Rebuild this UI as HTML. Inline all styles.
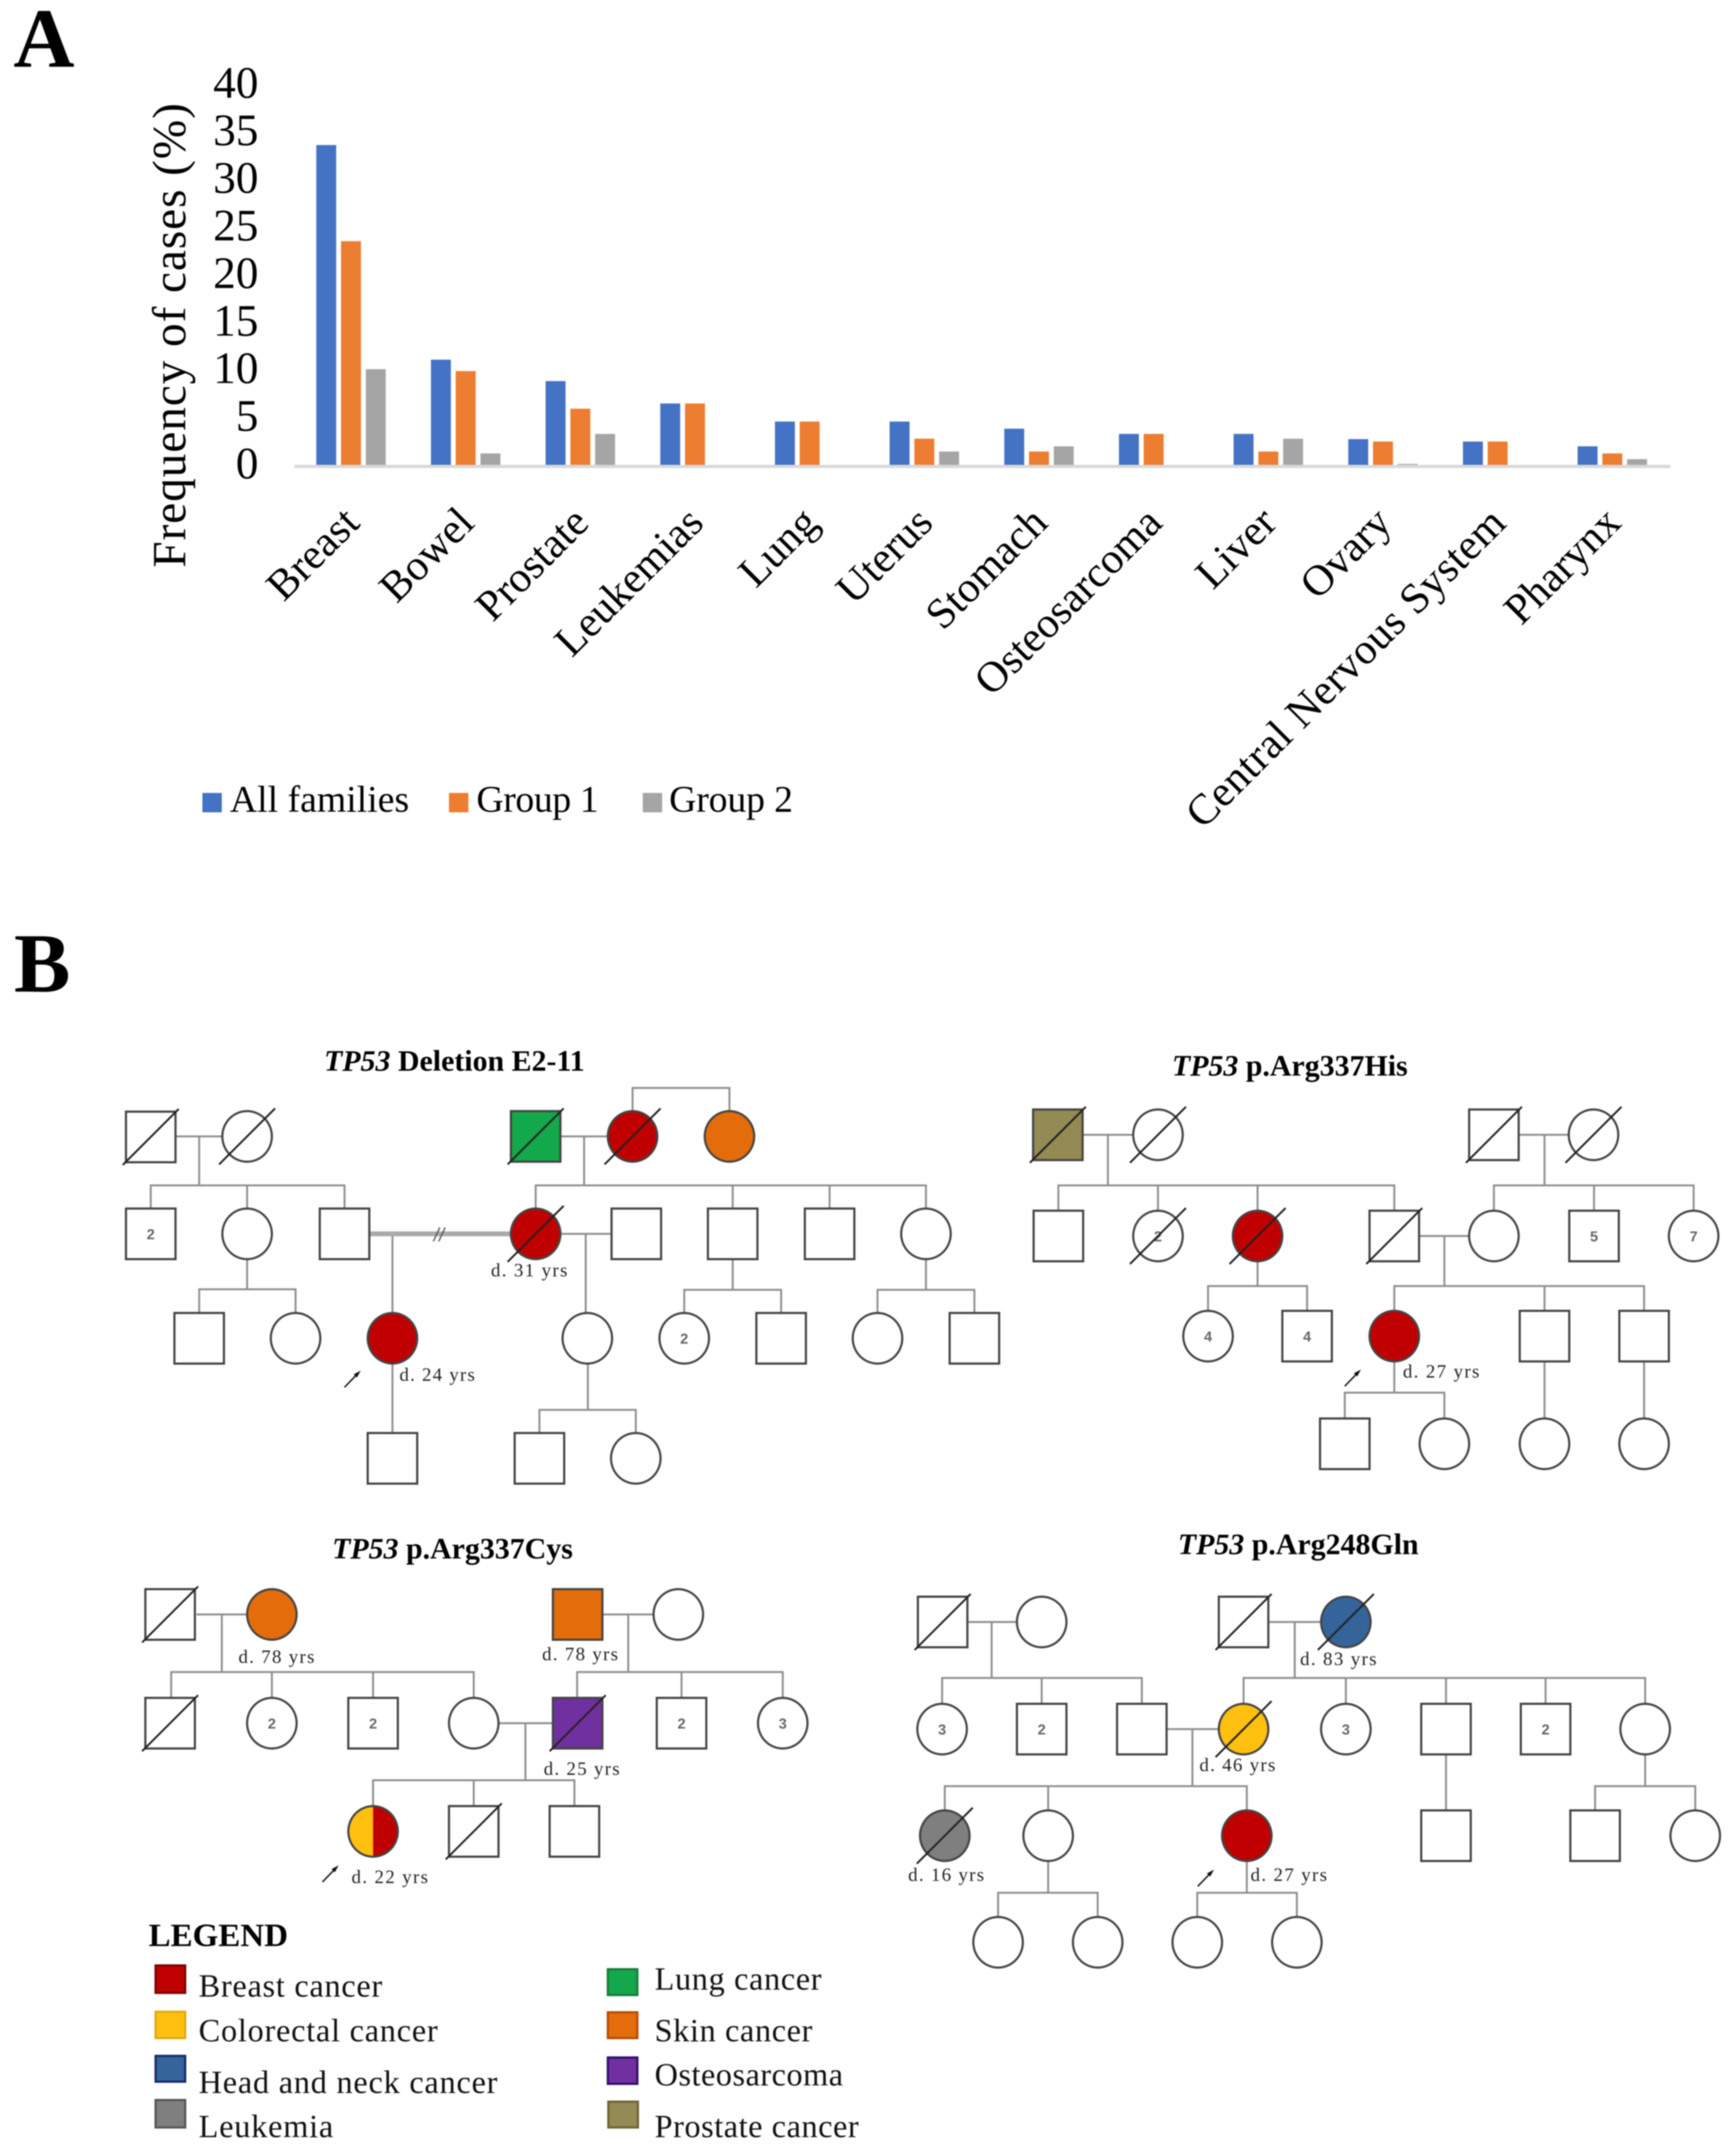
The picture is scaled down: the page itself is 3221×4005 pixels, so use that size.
<!DOCTYPE html>
<html lang="en">
<head>
<meta charset="utf-8">
<title>TP53 tumour frequency and pedigrees</title>
<style>
html,body{margin:0;padding:0;background:#fff}
svg{display:block;font-family:"Liberation Serif",serif;filter:blur(1px)}
.ln{fill:none;stroke:#8c8c8c;stroke-width:3.5}
.ttl{font-size:55.5px;font-weight:bold;fill:#000}
.ag{font-size:35px;fill:#222}
.num{font-family:"Liberation Sans",sans-serif;font-size:27px;font-weight:bold;fill:#666;text-anchor:middle}
.lg{font-size:60px;fill:#111}
.arr{stroke:#222;stroke-width:3;fill:none}
</style>
</head>
<body>
<svg id="figure" xmlns="http://www.w3.org/2000/svg" width="3221" height="4005" viewBox="0 0 3221 4005">
<defs>
<rect id="s" x="-46" y="-47" width="92" height="94" stroke="#444" stroke-width="4"/>
<ellipse id="c" rx="46" ry="47" stroke="#444" stroke-width="4"/>
<path id="x" d="M-52 52L52-52" stroke="#222" stroke-width="3.5" fill="none"/>
<g id="ar"><path d="M-14 15L12-12" class="arr"/><path d="M16-16L3-9L9-3Z" fill="#111"/></g>
</defs>
<rect width="3221" height="4005" fill="#fff"/>

<text x="25" y="124" font-size="157" font-weight="bold">A</text>
<text x="26" y="1842" font-size="157" font-weight="bold">B</text>

<g id="chart"></g>

<!-- Pedigree: Deletion E2-11 -->
<g fill="#fff">
<text class="ttl" x="602" y="1989"><tspan font-style="italic">TP53</tspan> Deletion E2-11</text>
<path class="ln" d="M325 2111H415M370 2111V2202M280 2247V2202H640V2247M459 2202V2247M459 2338V2395M370 2440V2395H549V2440M729 2292V2664M1041 2111H1130M1085 2111V2202M995 2247V2202H1720V2247M1361 2202V2247M1541 2202V2247M1175 2066V2021H1355V2066M1041 2292H1137M1088 2292V2440M1092 2531V2619M1002 2664V2619H1181V2664M1361 2338V2396M1271 2441V2396H1451V2441M1720 2338V2396M1630 2441V2396H1810V2441"/>
<path d="M685 2292H950" stroke="#aaa" stroke-width="9" fill="none"/>
<path d="M805 2306L817 2280M815 2306L827 2280" stroke="#555" stroke-width="2.5" fill="none"/>
<g transform="translate(280,2112)"><use href="#s"/><use href="#x"/></g>
<g transform="translate(459,2111)"><use href="#c"/><use href="#x"/></g>
<g transform="translate(995,2111)" fill="#12a84b"><use href="#s"/><use href="#x"/></g>
<g transform="translate(1175,2111)" fill="#c00000"><use href="#c"/><use href="#x"/></g>
<g transform="translate(1355,2111)" fill="#e46c0a"><use href="#c"/></g>
<g transform="translate(280,2292)"><use href="#s"/><text class="num" y="10">2</text></g>
<g transform="translate(459,2292)"><use href="#c"/></g>
<g transform="translate(640,2292)"><use href="#s"/></g>
<g transform="translate(995,2292)" fill="#c00000"><use href="#c"/><use href="#x"/></g>
<g transform="translate(1182,2292)"><use href="#s"/></g>
<g transform="translate(1361,2292)"><use href="#s"/></g>
<g transform="translate(1541,2292)"><use href="#s"/></g>
<g transform="translate(1720,2292)"><use href="#c"/></g>
<g transform="translate(370,2486)"><use href="#s"/></g>
<g transform="translate(549,2486)"><use href="#c"/></g>
<g transform="translate(729,2486)" fill="#c00000"><use href="#c"/></g>
<g transform="translate(1091,2486)"><use href="#c"/></g>
<g transform="translate(1271,2486)"><use href="#c"/><text class="num" y="10">2</text></g>
<g transform="translate(1451,2486)"><use href="#s"/></g>
<g transform="translate(1630,2486)"><use href="#c"/></g>
<g transform="translate(1810,2486)"><use href="#s"/></g>
<g transform="translate(729,2709)"><use href="#s"/></g>
<g transform="translate(1002,2709)"><use href="#s"/></g>
<g transform="translate(1181,2709)"><use href="#c"/></g>
<use href="#ar" transform="translate(654,2562)"/>
<text class="ag" x="912" y="2371" textLength="142">d. 31 yrs</text>
<text class="ag" x="742" y="2565" textLength="140">d. 24 yrs</text>
</g>

<!-- Pedigree: p.Arg337His -->
<g fill="#fff">
<text class="ttl" x="2177" y="1998"><tspan font-style="italic">TP53</tspan> p.Arg337His</text>
<path class="ln" d="M2012 2108H2105M2058 2108V2202M1966 2249V2202H2590V2249M2151 2202V2249M2336 2202V2249M2821 2108H2914M2869 2108V2202M2775 2249V2202H3146V2249M2961 2202V2249M2636 2296H2729M2683 2296V2389M2590 2435V2389H3054V2435M2869 2389V2435M2336 2343V2389M2244 2435V2389H2428V2435M2590 2529V2587M2498 2635V2587H2683V2635M2869 2529V2635M3054 2529V2635"/>
<g transform="translate(1965,2108)" fill="#948a54"><use href="#s"/><use href="#x"/></g>
<g transform="translate(2151,2108)"><use href="#c"/><use href="#x"/></g>
<g transform="translate(2775,2108)"><use href="#s"/><use href="#x"/></g>
<g transform="translate(2960,2108)"><use href="#c"/><use href="#x"/></g>
<g transform="translate(1966,2296)"><use href="#s"/></g>
<g transform="translate(2151,2296)"><use href="#c"/><text class="num" y="10">2</text><use href="#x"/></g>
<g transform="translate(2336,2296)" fill="#c00000"><use href="#c"/><use href="#x"/></g>
<g transform="translate(2590,2296)"><use href="#s"/><use href="#x"/></g>
<g transform="translate(2775,2296)"><use href="#c"/></g>
<g transform="translate(2961,2296)"><use href="#s"/><text class="num" y="10">5</text></g>
<g transform="translate(3146,2296)"><use href="#c"/><text class="num" y="10">7</text></g>
<g transform="translate(2244,2482)"><use href="#c"/><text class="num" y="10">4</text></g>
<g transform="translate(2428,2482)"><use href="#s"/><text class="num" y="10">4</text></g>
<g transform="translate(2590,2482)" fill="#c00000"><use href="#c"/></g>
<g transform="translate(2869,2482)"><use href="#s"/></g>
<g transform="translate(3054,2482)"><use href="#s"/></g>
<g transform="translate(2498,2682)"><use href="#s"/></g>
<g transform="translate(2683,2682)"><use href="#c"/></g>
<g transform="translate(2869,2682)"><use href="#c"/></g>
<g transform="translate(3054,2682)"><use href="#c"/></g>
<use href="#ar" transform="translate(2512,2560)"/>
<text class="ag" x="2606" y="2559" textLength="142">d. 27 yrs</text>
</g>

<!-- Pedigree: p.Arg337Cys -->
<g fill="#fff">
<text class="ttl" x="617" y="2895"><tspan font-style="italic">TP53</tspan> p.Arg337Cys</text>
<path class="ln" d="M365 2999H458M412 2999V3106M318 3153V3106H880V3153M505 3106V3153M693 3106V3153M1120 2999H1214M1167 2999V3106M1072 3153V3106H1454V3153M1266 3106V3153M927 3201H1026M976 3201V3307M693 3354V3307H1067V3354M880 3307V3354"/>
<g transform="translate(316,2999)"><use href="#s"/><use href="#x"/></g>
<g transform="translate(505,2999)" fill="#e46c0a"><use href="#c"/></g>
<g transform="translate(1073,2999)" fill="#e46c0a"><use href="#s"/></g>
<g transform="translate(1260,2999)"><use href="#c"/></g>
<g transform="translate(316,3201)"><use href="#s"/><use href="#x"/></g>
<g transform="translate(505,3201)"><use href="#c"/><text class="num" y="10">2</text></g>
<g transform="translate(693,3201)"><use href="#s"/><text class="num" y="10">2</text></g>
<g transform="translate(880,3201)"><use href="#c"/></g>
<g transform="translate(1073,3201)" fill="#7030a0"><use href="#s"/><use href="#x"/></g>
<g transform="translate(1266,3201)"><use href="#s"/><text class="num" y="10">2</text></g>
<g transform="translate(1454,3201)"><use href="#c"/><text class="num" y="10">3</text></g>
<g transform="translate(693,3402)"><path d="M0-47A46 47 0 0 0 0 47Z" fill="#ffc010"/><path d="M0-47A46 47 0 0 1 0 47Z" fill="#c00000"/><ellipse rx="46" ry="47" fill="none" stroke="#444" stroke-width="4"/></g>
<g transform="translate(880,3402)"><use href="#s"/><use href="#x"/></g>
<g transform="translate(1067,3402)"><use href="#s"/></g>
<use href="#ar" transform="translate(613,3481)"/>
<text class="ag" x="443" y="3089" textLength="141">d. 78 yrs</text>
<text class="ag" x="1007" y="3084" textLength="141">d. 78 yrs</text>
<text class="ag" x="1010" y="3297" textLength="141">d. 25 yrs</text>
<text class="ag" x="653" y="3498" textLength="142">d. 22 yrs</text>
</g>

<!-- Pedigree: p.Arg248Gln -->
<g fill="#fff">
<text class="ttl" x="2188" y="2887"><tspan font-style="italic">TP53</tspan> p.Arg248Gln</text>
<path class="ln" d="M1798 3013H1889M1842 3013V3117M1750 3164V3117H2121V3164M1935 3117V3164M2356 3013H2454M2405 3013V3117M2310 3164V3117H3056V3164M2500 3117V3164M2686 3117V3164M2871 3117V3164M2168 3212H2263M2215 3212V3318M1755 3363V3318H2316V3363M1947 3318V3363M2686 3259V3363M3056 3259V3318M2963 3363V3318H3149V3363M1947 3457V3516M1854 3560V3516H2039V3560M2316 3457V3516M2224 3560V3516H2409V3560"/>
<g transform="translate(1751,3013)"><use href="#s"/><use href="#x"/></g>
<g transform="translate(1935,3013)"><use href="#c"/></g>
<g transform="translate(2310,3013)"><use href="#s"/><use href="#x"/></g>
<g transform="translate(2500,3013)" fill="#35649b"><use href="#c"/><use href="#x"/></g>
<g transform="translate(1750,3212)"><use href="#c"/><text class="num" y="10">3</text></g>
<g transform="translate(1935,3212)"><use href="#s"/><text class="num" y="10">2</text></g>
<g transform="translate(2121,3212)"><use href="#s"/></g>
<g transform="translate(2310,3212)" fill="#ffc010"><use href="#c"/><use href="#x"/></g>
<g transform="translate(2500,3212)"><use href="#c"/><text class="num" y="10">3</text></g>
<g transform="translate(2686,3212)"><use href="#s"/></g>
<g transform="translate(2871,3212)"><use href="#s"/><text class="num" y="10">2</text></g>
<g transform="translate(3056,3212)"><use href="#c"/></g>
<g transform="translate(1755,3410)" fill="#7f7f7f"><use href="#c"/><use href="#x"/></g>
<g transform="translate(1947,3410)"><use href="#c"/></g>
<g transform="translate(2316,3410)" fill="#c00000"><use href="#c"/></g>
<g transform="translate(2686,3410)"><use href="#s"/></g>
<g transform="translate(2963,3410)"><use href="#s"/></g>
<g transform="translate(3149,3410)"><use href="#c"/></g>
<g transform="translate(1854,3608)"><use href="#c"/></g>
<g transform="translate(2039,3608)"><use href="#c"/></g>
<g transform="translate(2224,3608)"><use href="#c"/></g>
<g transform="translate(2409,3608)"><use href="#c"/></g>
<use href="#ar" transform="translate(2239,3489)"/>
<text class="ag" x="2415" y="3093" textLength="142">d. 83 yrs</text>
<text class="ag" x="2228" y="3290" textLength="141">d. 46 yrs</text>
<text class="ag" x="1687" y="3494" textLength="141">d. 16 yrs</text>
<text class="ag" x="2323" y="3494" textLength="142">d. 27 yrs</text>
</g>

<!-- Cancer type legend -->
<g>
<text x="276" y="3615" font-size="60" font-weight="bold" textLength="259" lengthAdjust="spacingAndGlyphs">LEGEND</text>
<rect x="289" y="3651" width="55" height="51" fill="#c00000" stroke="#7a0000" stroke-width="4"/>
<text class="lg" x="369" y="3709" textLength="341">Breast cancer</text>
<rect x="289" y="3737" width="55" height="49" fill="#ffc010" stroke="#e0a810" stroke-width="4"/>
<text class="lg" x="369" y="3792" textLength="444">Colorectal cancer</text>
<rect x="289" y="3819" width="55" height="48" fill="#35649b" stroke="#14296a" stroke-width="4"/>
<text class="lg" x="369" y="3888" textLength="555">Head and neck cancer</text>
<rect x="289" y="3901" width="55" height="51" fill="#7f7f7f" stroke="#555" stroke-width="4"/>
<text class="lg" x="369" y="3970" textLength="250">Leukemia</text>
<rect x="1129" y="3658" width="55" height="48" fill="#12a84b" stroke="#1b7a3b" stroke-width="4"/>
<text class="lg" x="1216" y="3696" textLength="310">Lung cancer</text>
<rect x="1129" y="3738" width="55" height="48" fill="#e46c0a" stroke="#b84a08" stroke-width="4"/>
<text class="lg" x="1216" y="3792" textLength="293">Skin cancer</text>
<rect x="1129" y="3822" width="55" height="49" fill="#7030a0" stroke="#2e0f6b" stroke-width="4"/>
<text class="lg" x="1216" y="3874" textLength="350">Osteosarcoma</text>
<rect x="1130" y="3904" width="55" height="48" fill="#948a54" stroke="#6b6335" stroke-width="4"/>
<text class="lg" x="1216" y="3970" textLength="379">Prostate cancer</text>
</g>
</svg>

<script>
const categories = ["Breast","Bowel","Prostate","Leukemias","Lung","Uterus","Stomach","Osteosarcoma","Liver","Ovary","Central Nervous System","Pharynx"];
const allFamilies = [33.6,11.05,8.8,6.45,4.55,4.55,3.8,3.25,3.25,2.7,2.45,1.95];
const group1 = [23.5,9.85,5.9,6.45,4.55,2.75,1.4,3.25,1.4,2.45,2.45,1.2];
const group2 = [10.05,1.2,3.25,0,0,1.4,1.95,0,2.75,0.1,0,0.6];
const yTickValues = [0,5,10,15,20,25,30,35,40];
const seriesNames = ["All families","Group 1","Group 2"];
const seriesColors = ["#4472c4","#ed7d31","#a5a5a5"];

const NS = "http://www.w3.org/2000/svg";
const chart = document.getElementById("chart");
function xCenter(i){ return 545.5 + 213 * (i + 0.5); }
function yValue(v){ return 863.5 - 17.68 * v; }

const axisLine = document.createElementNS(NS, "rect");


axisLine.setAttribute("x", 547);
axisLine.setAttribute("y", yValue(0));
axisLine.setAttribute("width", 213 * categories.length);
axisLine.setAttribute("height", 6);
axisLine.setAttribute("fill", "#d9d9d9");
chart.appendChild(axisLine);

const yTitle = document.createElementNS(NS, "text");


yTitle.setAttribute("transform", "translate(344,623) rotate(-90)");
yTitle.setAttribute("text-anchor", "middle");
yTitle.setAttribute("font-size", "88");
yTitle.setAttribute("textLength", "863");
yTitle.textContent = "Frequency of cases (%)";
chart.appendChild(yTitle);

yTickValues.forEach(function(v){
  const t = document.createElementNS(NS, "text");
  
  
  t.setAttribute("x", 480);
  t.setAttribute("y", yValue(v) + 25);
  t.setAttribute("text-anchor", "end");
  t.setAttribute("font-size", "84");
  t.textContent = String(v);
  chart.appendChild(t);
});

[allFamilies, group1, group2].forEach(function(series, s){
  series.forEach(function(v, i){
    if (!v) return;
    const bar = document.createElementNS(NS, "rect");
    
    
    bar.setAttribute("x", xCenter(i) + (s - 1) * 46 - 18.5);
    bar.setAttribute("y", yValue(v));
    bar.setAttribute("width", 37);
    bar.setAttribute("height", yValue(0) - yValue(v));
    bar.setAttribute("fill", seriesColors[s]);
    chart.appendChild(bar);
  });
});

categories.forEach(function(name, i){
  const ax = xCenter(i) + 19.5;
  const t = document.createElementNS(NS, "text");
  
  
  t.setAttribute("x", ax);
  t.setAttribute("y", 975);
  t.setAttribute("text-anchor", "end");
  t.setAttribute("font-size", "80");
  t.setAttribute("letter-spacing", name.length > 20 ? "0.9" : "0");
  t.setAttribute("transform", "rotate(-45 " + ax + " 975)");
  t.textContent = name;
  chart.appendChild(t);
});

const legendX = [376, 834, 1194];
const legendTextX = [427, 885, 1243];
const legendTextW = [333, 227, 230];
seriesNames.forEach(function(name, s){
  const sw = document.createElementNS(NS, "rect");
  
  
  sw.setAttribute("x", legendX[s]);
  sw.setAttribute("y", 1473);
  sw.setAttribute("width", 36);
  sw.setAttribute("height", 36);
  sw.setAttribute("fill", seriesColors[s]);
  chart.appendChild(sw);
  const t = document.createElementNS(NS, "text");
  
  
  t.setAttribute("x", legendTextX[s]);
  t.setAttribute("y", 1508);
  t.setAttribute("font-size", "70");
  t.setAttribute("textLength", legendTextW[s]);
  t.textContent = name;
  chart.appendChild(t);
});
</script>
</body>
</html>
